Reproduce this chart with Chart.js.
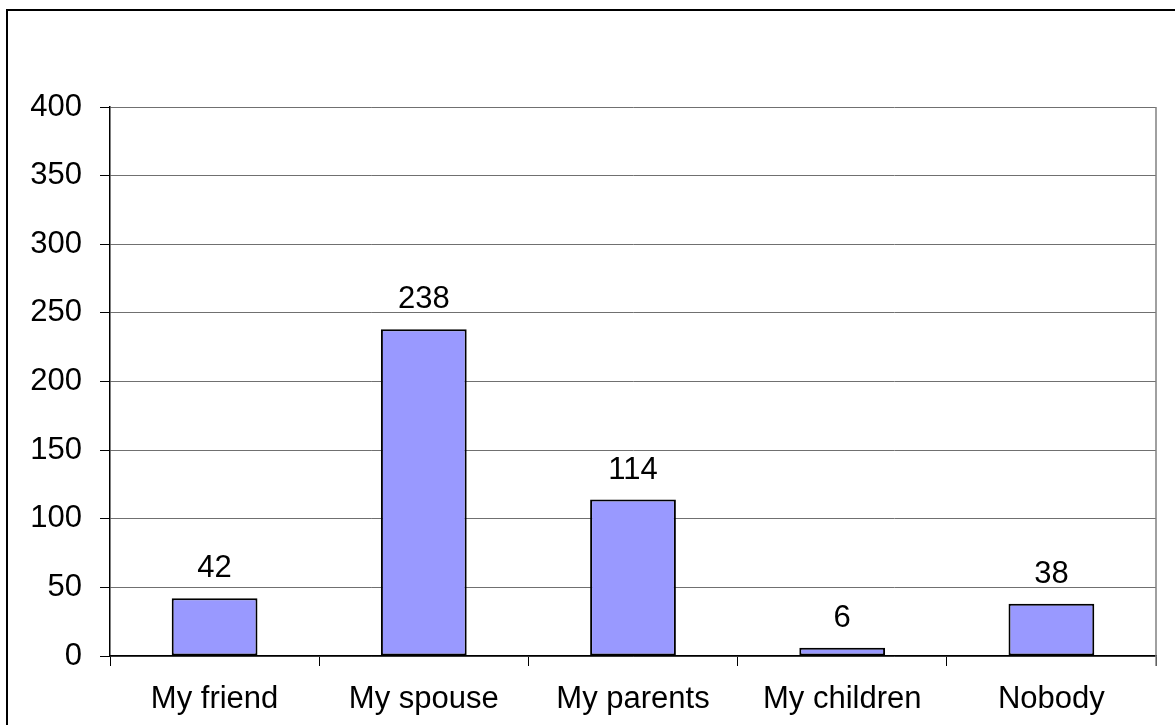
<!DOCTYPE html>
<html>
<head>
<meta charset="utf-8">
<script src="https://cdn.jsdelivr.net/npm/chart.js@4"></script>
<style>
  html, body { margin: 0; padding: 0; background: #fff; }
  #wrap { width: 1175px; height: 725px; }
</style>
</head>
<body>
<div id="wrap"><canvas id="answerChart" width="1175" height="725"></canvas></div>
<script>
const categories = ["My friend", "My spouse", "My parents", "My children", "Nobody"];
const counts = [42, 238, 114, 6, 38];
const yTicks = [0, 50, 100, 150, 200, 250, 300, 350, 400];

const FONT = "'Liberation Sans', Arial, sans-serif";

// outer frame, right edge of the plot, value numbers over the bars
const decorations = {
  id: 'decorations',
  afterDraw(chart) {
    const ctx = chart.ctx;
    const area = chart.chartArea;
    ctx.save();
    ctx.strokeStyle = '#808080';
    ctx.lineWidth = 1.5;
    ctx.beginPath();
    ctx.moveTo(area.right, area.top);
    ctx.lineTo(area.right, area.bottom + 10);
    ctx.stroke();

    ctx.strokeStyle = '#000';
    ctx.lineWidth = 2;
    ctx.strokeRect(7, 10, chart.width + 20, chart.height + 20);

    ctx.fillStyle = '#000';
    ctx.font = `31px ${FONT}`;
    ctx.textAlign = 'center';
    ctx.textBaseline = 'alphabetic';
    const meta = chart.getDatasetMeta(0);
    meta.data.forEach((bar, i) => {
      ctx.fillText(String(counts[i]), bar.x, bar.y - 21);
    });
    ctx.restore();
  }
};

new Chart(document.getElementById('answerChart'), {
  type: 'bar',
  data: {
    labels: categories,
    datasets: [{
      data: counts,
      backgroundColor: '#9999FF',
      borderColor: '#000',
      borderWidth: 2,
      borderSkipped: false,
      barPercentage: 0.41,
      categoryPercentage: 1
    }]
  },
  options: {
    responsive: false,
    animation: false,
    layout: { padding: { top: 107, right: 19, bottom: 0, left: 0 } },
    plugins: {
      legend: { display: false },
      tooltip: { enabled: false }
    },
    scales: {
      x: {
        afterFit(scale) { scale.height = 69; },
        grid: {
          offset: true,
          drawOnChartArea: false,
          drawTicks: true,
          tickLength: 10,
          color: '#000'
        },
        border: { color: '#000', width: 1.5 },
        ticks: {
          color: '#000',
          padding: 15,
          font: { family: FONT, size: 31 }
        }
      },
      y: {
        min: 0,
        max: 400,
        afterFit(scale) { scale.width = 110; },
        afterBuildTicks(scale) { scale.ticks = yTicks.map(v => ({ value: v })); },
        grid: {
          color: '#707070',
          lineWidth: 1,
          drawTicks: true,
          tickLength: 10,
          tickColor: '#000'
        },
        border: { color: '#000', width: 1.5 },
        ticks: {
          color: '#000',
          padding: 18,
          font: { family: FONT, size: 31 }
        }
      }
    }
  },
  plugins: [decorations]
});
</script>
</body>
</html>
